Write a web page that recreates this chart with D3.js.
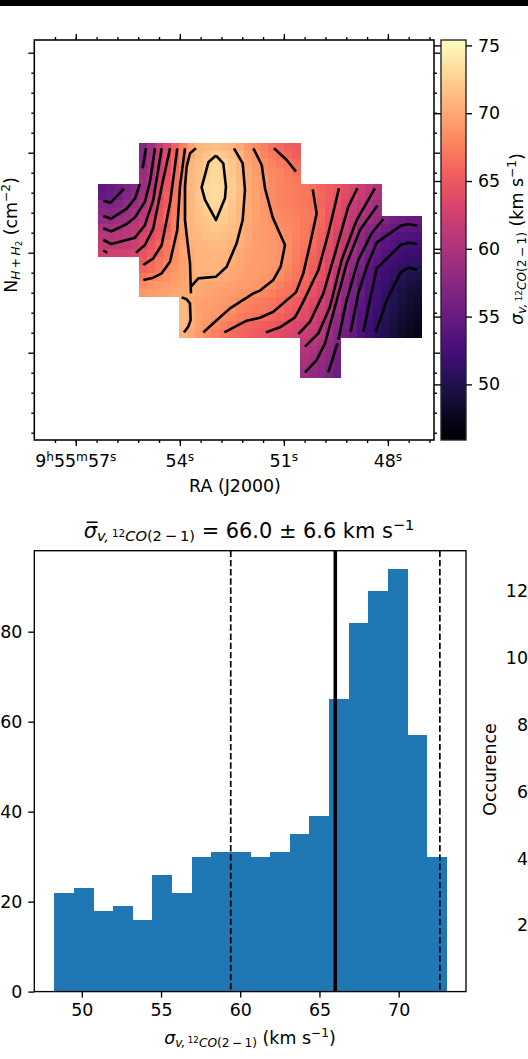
<!DOCTYPE html>
<html>
<head>
<meta charset="utf-8">
<script src="https://cdn.jsdelivr.net/npm/d3@7"></script>
<style>
body { margin: 0; background: #fff; }
svg { display: block; }
text { font-family: "DejaVu Sans"; fill: #000; }
</style>
</head>
<body>
<svg id="fig" width="528" height="1059"></svg>
<script>
// sigma_v map, one row per pixel row of the image; first column of each row is in rowFirstCol
const rowFirstCol = [5,5,5,5,5, 0,0,0,0, 0,0,0,0,0, 5,5,5,5,5, 10,10,10,10,10, 25,25,25,25,25];
const sigmaRows = [
  [57.0,59.0,61.3,63.2,65.4,67.6,69.6,70.8,71.1,71.3,71.2,70.9,70.0,69.0,68.3,67.5,66.7,66.1,65.6,65.2],
  [57.3,59.3,61.4,63.6,65.7,67.8,70.2,71.1,71.6,72.3,72.0,71.4,70.7,69.5,68.9,67.9,67.3,66.7,66.0,65.4],
  [57.6,59.6,61.8,63.9,66.1,68.0,70.9,71.5,72.1,72.9,72.7,71.9,71.0,69.9,69.2,68.4,67.8,67.3,66.8,66.2],
  [58.5,59.8,62.2,64.2,66.4,68.3,71.0,71.6,72.4,73.0,72.7,72.0,71.1,70.1,69.4,68.7,68.1,67.7,67.2,66.6],
  [58.8,60.3,62.5,64.6,66.7,68.5,71.0,71.7,72.7,73.1,72.8,72.1,71.2,70.2,69.5,68.9,68.3,67.9,67.4,67.0],
  [54.5,55.0,55.6,56.5,57.4,58.8,60.6,62.9,64.9,66.9,68.8,71.0,71.8,73.0,73.3,73.0,72.2,71.3,70.3,69.6,68.9,68.3,67.9,67.6,67.3,67.0,66.6,65.9,65.3,64.7,64.1,63.2,62.1,61.2,60.2],
  [54.8,55.2,56.0,57.0,58.0,59.2,61.2,63.2,65.3,67.0,68.9,71.0,71.9,72.9,73.3,72.9,72.1,71.2,70.3,69.7,68.9,68.3,67.9,67.6,67.3,67.0,66.7,66.0,65.4,64.8,63.8,63.1,61.9,60.8,59.8],
  [56.8,56.4,57.0,57.8,58.7,59.9,61.6,64.0,65.2,67.2,69.0,71.0,71.9,72.7,73.2,72.7,72.0,71.2,70.3,69.6,68.9,68.3,67.9,67.6,67.3,67.1,66.8,65.9,65.1,64.3,63.2,62.0,61.0,60.0,59.0],
  [57.6,57.4,57.8,58.6,59.5,60.7,62.1,64.5,65.8,67.3,69.4,71.0,71.7,72.4,72.8,72.5,71.8,71.1,70.2,69.6,69.0,68.5,68.2,67.9,67.5,67.2,66.9,66.2,65.0,64.0,63.0,61.7,60.6,59.5,58.4],
  [58.3,58.3,58.7,59.3,60.4,61.4,63.0,64.8,66.1,67.6,69.7,71.0,71.5,72.0,72.4,72.1,71.6,71.0,70.2,69.6,69.1,68.7,68.3,68.0,67.7,67.3,66.9,66.0,64.9,63.7,62.4,61.1,59.6,58.8,57.9,56.8,55.8,55.3,54.9,54.8],
  [59.8,59.6,59.9,60.6,61.2,62.1,63.1,64.5,65.7,67.4,69.4,70.8,71.3,71.7,72.0,71.8,71.4,70.8,69.9,69.5,69.2,68.9,68.6,68.2,67.8,67.3,66.4,65.9,64.8,63.4,62.1,60.6,58.5,57.4,56.8,55.6,54.9,54.2,54.1,54.0],
  [60.8,60.5,60.6,61.0,61.5,63.0,63.8,65.1,66.4,67.9,69.2,70.8,71.1,71.4,71.6,71.4,71.1,70.6,69.9,69.4,69.1,68.9,68.7,68.2,67.7,67.2,66.4,65.4,64.3,62.9,61.5,59.9,58.1,56.6,55.5,54.5,53.9,53.4,53.2,53.1],
  [61.6,61.4,61.5,61.8,62.2,63.4,64.6,65.7,67.0,68.3,69.7,70.6,70.9,71.1,71.2,71.1,70.8,70.5,69.9,69.5,69.2,69.0,68.8,68.4,67.6,67.0,66.2,65.3,64.0,63.0,61.3,59.6,57.6,56.0,54.8,53.9,53.2,52.7,52.3,52.4],
  [62.4,62.4,62.5,62.7,63.0,64.5,65.1,66.0,67.2,68.6,69.8,70.3,70.7,70.9,70.9,70.8,70.6,70.2,69.7,69.4,69.2,69.0,68.7,68.3,67.5,66.7,65.9,65.0,63.7,62.4,60.5,59.0,57.1,55.6,54.3,53.3,52.7,52.2,51.8,51.7],
  [64.9,66.1,66.9,67.6,68.5,69.5,70.2,70.7,70.8,70.8,70.7,70.5,70.0,69.6,69.3,69.2,69.0,68.8,68.2,67.4,66.6,65.5,64.7,63.4,62.2,59.9,58.0,56.7,54.9,53.7,52.8,52.1,51.7,51.2,51.1],
  [65.9,66.4,67.2,68.2,68.9,69.5,70.3,70.7,70.8,70.8,70.6,70.2,69.9,69.5,69.3,69.1,68.9,68.6,68.0,67.2,66.4,65.2,64.4,63.0,61.4,59.4,57.7,55.9,54.0,52.9,52.1,51.5,50.9,50.4,50.3],
  [66.9,67.7,68.2,68.7,69.2,69.7,70.3,70.6,70.5,70.5,70.2,70.0,69.7,69.4,69.2,69.0,68.7,68.3,67.6,66.9,66.2,65.4,64.2,62.9,60.9,58.9,56.9,55.1,53.6,52.7,51.9,51.1,50.5,49.9,49.7],
  [68.3,68.7,69.0,69.2,69.6,69.9,70.3,70.1,70.0,69.9,69.8,69.6,69.4,69.2,69.0,68.8,68.3,67.6,67.0,66.5,65.8,64.9,63.6,62.4,60.3,57.9,56.2,54.5,53.4,52.1,51.5,50.7,49.9,49.3,49.1],
  [68.9,69.3,69.5,69.6,70.0,70.2,70.5,70.0,69.8,69.6,69.4,69.2,69.0,68.8,68.6,68.0,67.6,67.1,66.7,66.3,65.3,64.3,63.3,61.8,59.9,57.9,56.2,54.9,53.4,52.3,51.3,50.3,49.4,48.8,48.6],
  [71.0,70.0,69.7,69.5,69.3,69.1,68.8,68.3,67.9,67.6,67.3,66.9,66.4,65.9,65.3,64.6,63.6,62.7,61.2,59.5,57.5,55.9,54.3,52.9,52.1,51.0,50.1,49.3,48.6,48.3],
  [71.2,70.4,69.6,69.3,69.1,68.8,68.5,67.9,67.5,67.2,67.0,66.7,66.3,65.6,64.9,64.1,63.1,62.2,60.9,58.9,56.9,55.6,53.8,52.7,51.7,50.7,49.8,49.1,48.4,48.0],
  [71.2,70.6,69.8,69.3,68.9,68.3,67.8,67.4,67.1,66.8,66.4,66.0,65.6,65.0,64.3,63.7,62.8,61.9,60.2,58.1,56.6,55.2,53.6,52.3,51.3,50.2,49.5,48.8,48.2,47.8],
  [71.0,70.4,69.5,68.9,68.2,67.6,67.1,66.4,65.9,65.6,65.3,65.0,64.4,63.9,63.3,62.9,62.2,61.1,59.2,57.8,56.2,54.8,53.5,52.2,51.0,50.0,49.2,48.5,47.9,47.5],
  [70.6,70.0,69.1,68.3,67.6,66.9,66.2,65.8,65.5,65.1,64.8,64.2,63.8,63.4,62.8,62.0,61.4,60.7,59.0,57.2,55.8,54.6,53.2,52.0,50.7,49.9,49.1,48.3,47.6,47.2],
  [61.0,60.7,59.9,58.2,57.0],
  [60.5,59.9,59.0,57.7,56.3],
  [59.9,59.3,58.4,57.4,55.9],
  [59.3,58.6,57.9,57.0,55.6],
  [58.7,58.1,57.4,56.5,55.3]
];

// contour lines, as [column, row] of the map
const contourLines = [
  [[0.62,7.09],[1.53,7.33],[3.18,5.6]],
  [[0.62,8.98],[1.61,9.31],[3.51,8.08],[4.54,6.8],[5.15,5.03]],
  [[5.48,3.09],[5.9,0.62]],
  [[0.62,10.5],[1.61,10.88],[3.51,9.97],[4.54,9.15],[5.77,7.21],[6.39,4.74],[7.01,0.62]],
  [[0.62,11.95],[1.61,12.44],[4.54,11.66],[5.77,10.09],[6.8,7.0],[7.84,0.62]],
  [[0.62,13.27],[1.11,13.51]],
  [[4.66,13.51],[5.77,12.57],[6.8,10.51],[7.84,5.36],[8.87,0.62]],
  [[5.57,15.04],[6.8,14.22],[7.84,12.57],[8.87,7.42],[9.77,0.62]],
  [[5.57,16.89],[6.8,16.6],[7.84,16.07],[8.87,14.63],[9.77,10.71],[10.1,5.36],[10.72,0.62]],
  [[12.08,0.62],[11.34,1.24],[10.93,2.88],[10.72,5.36],[10.72,9.48],[11.34,14.83],[11.46,18.54]],
  [[11.46,17.72],[12.37,16.69],[14.56,16.48],[15.88,15.25],[17.11,12.36],[17.86,9.48],[18.14,5.77],[17.86,2.47],[16.78,0.62]],
  [[10.31,19.04],[10.93,19.28],[11.34,19.78],[11.42,21.84],[11.13,22.66],[10.6,23.36]],
  [[14.56,1.52],[13.61,2.35],[13.2,3.91],[12.78,5.44],[13.2,7.0],[14.56,9.48],[15.67,6.8],[15.79,5.36],[15.46,2.47],[14.56,1.52]],
  [[12.99,23.36],[14.43,22.04],[16.29,20.4],[19.18,18.54],[20,18.2],[21.65,16.89],[22.56,15.25],[23.09,12.57],[21.57,9.15],[20.62,5.56],[20.21,2.68],[19.18,0.62]],
  [[21.73,0.62],[23.3,2.06],[24.45,3.5]],
  [[15.59,23.36],[18.35,21.92],[20,21.55],[21.65,20.81],[24.45,18.42],[25.36,16.07],[26.39,11.54],[27.01,8.65],[26.52,5.69]],
  [[20.74,23.36],[22.47,22.74],[24.33,21.51],[25.36,19.57],[27.22,15.66],[28.45,11.12],[29.77,5.56]],
  [[24.74,23.57],[26.19,22.04],[27.84,18.54],[29.28,13.6],[30.93,7.83],[32.04,5.56]],
  [[25.57,25.13],[27.22,23.49],[28.66,20.19],[30.1,14.42],[31.96,9.48],[34.21,5.56]],
  [[25.57,28.31],[27.01,26.78],[28.04,24.72],[29.28,20.19],[30.72,14.83],[32.37,10.71],[34.52,7.7]],
  [[28.45,28.31],[29.57,24.72]],
  [[29.69,24.23],[30.72,19.37],[32.16,14.42],[33.81,11.12],[35.26,9.35]],
  [[31.22,23.28],[32.16,18.54],[33.2,15.25],[34.43,12.28],[37.4,10.18],[38.35,9.97],[39.46,10.18]],
  [[32.78,23.28],[33.6,19.37],[34.43,15.45],[37.4,12.57],[38.35,12.28],[39.46,12.44]],
  [[34.35,23.28],[35.67,19.37],[37.4,15.95],[38.47,15.37],[39.46,15.66]]
];

const raMajor = [57, 54, 51, 48];
const raMinor = [57.6,57,56.4,55.8,55.2,54.6,54,53.4,52.8,52.2,51.6,51,50.4,49.8,49.2,48.6,48,47.4,46.8];
const decTicks = d3.range(0, 20);
const cbarTicks = [50, 55, 60, 65, 70, 75];

const histEdges = [48.27,49.51,50.75,51.98,53.22,54.46,55.70,56.94,58.17,59.41,60.65,61.89,63.13,64.36,65.60,66.84,68.08,69.32,70.55,71.79,73.03];
const histCounts = [22,23,18,19,16,26,22,30,31,31,30,31,35,39,65,82,89,94,57,30];
const histMean = 66.0;
const histStd = 6.6;
const histXTicks = [50, 55, 60, 65, 70];
const histYTicks = [0, 20, 40, 60, 80];
const thirdPanelTicks = [2, 4, 6, 8, 10, 12];

const FS = 17.4, LW = 1.35;
const svg = d3.select("#fig");

// chart box positions
const map = { left: 34.3, right: 434, top: 40, bottom: 440 };
const cb = { left: 441, right: 466 };
const hist = { left: 34.3, right: 466, top: 550.7, bottom: 991.6 };

svg.append("rect").attr("x", 0).attr("y", 0).attr("width", 528).attr("height", 6).attr("fill", "#000");

var ra = d3.scaleLinear().domain([57, 48]).range([75.8, 387.9]);
var dec = d3.scaleLinear().domain([0, 19]).range([52.7, 432.7]);
var col = d3.scaleLinear().domain([0, 40]).range([98.3, 421.7]);
var row = d3.scaleLinear().domain([0, 29]).range([143.3, 378]);
var vscale = d3.scaleLinear().domain([45.9, 75.4]).range([440, 40]);
var color = d3.scaleSequential(d3.interpolateMagma).domain([45.9, 75.4]);

// map cells
var cells = [];
sigmaRows.forEach(function (r, i) {
    r.forEach(function (v, j) { cells.push({ c: rowFirstCol[i] + j, r: i, v: v }); });
});
svg.append("g").attr("shape-rendering", "crispEdges").selectAll("rect").data(cells).join("rect")
    .attr("x", d => col(d.c)).attr("y", d => row(d.r))
    .attr("width", col(1) - col(0) + 0.4).attr("height", row(1) - row(0) + 0.4)
    .attr("fill", d => color(d.v));

var line = d3.line().x(d => col(d[0])).y(d => row(d[1]));
svg.append("g").selectAll("path").data(contourLines).join("path")
    .attr("d", line).attr("fill", "none").attr("stroke", "#000")
    .attr("stroke-width", 2.6).attr("stroke-linejoin", "round").attr("stroke-linecap", "butt");

function styleAxis(g) {
    g.selectAll("path").attr("stroke", "#000").attr("stroke-width", LW);
    g.selectAll("line").attr("stroke", "#000").attr("stroke-width", LW);
    g.selectAll("text").attr("font-size", FS).attr("font-family", "DejaVu Sans").attr("fill", "#000");
}
function tickAxis(axis, x, y, size, vals) {
    var g = svg.append("g").attr("transform", "translate(" + x + "," + y + ")")
        .call(axis.tickValues(vals).tickSize(size).tickSizeOuter(0).tickFormat(""));
    g.select("path").remove();
    styleAxis(g);
    return g;
}

// map ticks on all sides, no labels on the y side
var decMajor = decTicks.filter(d => d % 5 == 0), decMinor = decTicks.filter(d => d % 5 != 0);
tickAxis(d3.axisTop(ra), 0, map.top, 6, raMajor);
tickAxis(d3.axisTop(ra), 0, map.top, 3, raMinor);
tickAxis(d3.axisBottom(ra), 0, map.bottom, 6, raMajor);
tickAxis(d3.axisBottom(ra), 0, map.bottom, 3, raMinor);
tickAxis(d3.axisLeft(dec), map.left, 0, 6, decMajor);
tickAxis(d3.axisLeft(dec), map.left, 0, 3, decMinor);
tickAxis(d3.axisRight(dec), map.right, 0, 6, decMajor);
tickAxis(d3.axisRight(dec), map.right, 0, 3, decMinor);
svg.append("rect").attr("x", map.left).attr("y", map.top).attr("width", map.right - map.left)
    .attr("height", map.bottom - map.top).attr("fill", "none").attr("stroke", "#000").attr("stroke-width", LW + 0.2);

// sub and superscripts as tspans; dy is undone on the following part
function mathText(t, parts) {
    var shift = 0;
    parts.forEach(function (p) {
        var rise = p.rise || 0;
        t.append("tspan").attr("dy", shift - rise)
            .attr("font-size", p.size || FS)
            .attr("font-style", p.it ? "italic" : "normal")
            .text(p.t);
        shift = rise;
    });
    return t;
}
var sigmaParts = [
    { t: "v,\u2009", it: 1, size: FS * 0.7, rise: -3 },
    { t: "12", size: FS * 0.5, rise: 1 },
    { t: "CO", it: 1, size: FS * 0.7, rise: -3 },
    { t: "(2\u2009\u2212\u20091)", it: 0, size: FS * 0.7, rise: -3 }
];

// RA labels
raMajor.forEach(function (s, i) {
    var t = svg.append("text").attr("x", ra(s)).attr("y", 467).attr("text-anchor", "middle");
    var parts = i == 0 ? [{ t: "9" }, { t: "h", size: FS * 0.7, rise: 6 }, { t: "55" }, { t: "m", size: FS * 0.7, rise: 6 }, { t: "57" }, { t: "s", size: FS * 0.7, rise: 6 }]
        : [{ t: String(s) }, { t: "s", size: FS * 0.7, rise: 6 }];
    mathText(t, parts);
});
svg.append("text").attr("x", 235).attr("y", 492).attr("text-anchor", "middle").attr("font-size", FS).text("RA (J2000)");

var nLabel = svg.append("text").attr("text-anchor", "middle").attr("transform", "translate(17,235) rotate(-90)");
mathText(nLabel, [{ t: "N" }, { t: "H\u2009+\u2009H", it: 1, size: FS * 0.7, rise: -3 }, { t: "2", size: FS * 0.5, rise: -5 }, { t: " (cm" }, { t: "\u22122", size: FS * 0.7, rise: 7 }, { t: ")" }]);

// colorbar
svg.append("g").attr("shape-rendering", "crispEdges").selectAll("rect").data(d3.range(40, 440)).join("rect")
    .attr("x", cb.left).attr("y", d => d).attr("width", cb.right - cb.left).attr("height", 1.2)
    .attr("fill", d => color(vscale.invert(d + 0.5)));
svg.append("rect").attr("x", cb.left).attr("y", map.top).attr("width", cb.right - cb.left)
    .attr("height", map.bottom - map.top).attr("fill", "none").attr("stroke", "#222").attr("stroke-width", LW);
var cbAxis = svg.append("g").attr("transform", "translate(" + cb.right + ",0)")
    .call(d3.axisRight(vscale).tickValues(cbarTicks).tickSize(6).tickPadding(6).tickSizeOuter(0));
cbAxis.select("path").remove();
styleAxis(cbAxis);
tickAxis(d3.axisLeft(vscale), cb.left, 0, 7, cbarTicks);

var cbLabel = svg.append("text").attr("text-anchor", "middle").attr("transform", "translate(523,239) rotate(-90)");
mathText(cbLabel, [{ t: "\u03c3", it: 1 }].concat(sigmaParts).concat([{ t: " (km s" }, { t: "\u22121", size: FS * 0.7, rise: 7 }, { t: ")" }]));

// histogram
var hx = d3.scaleLinear().domain([47.0, 74.25]).range([hist.left, hist.right]);
var hy = d3.scaleLinear().domain([0, 98.0]).range([hist.bottom, hist.top]);

svg.append("g").attr("shape-rendering", "crispEdges").selectAll("rect").data(histCounts).join("rect")
    .attr("x", (d, i) => hx(histEdges[i])).attr("y", d => hy(d))
    .attr("width", (d, i) => hx(histEdges[i + 1]) - hx(histEdges[i]) + 0.3)
    .attr("height", d => hy(0) - hy(d)).attr("fill", "#1f77b4");

[histMean - histStd, histMean + histStd].forEach(function (v) {
    svg.append("line").attr("x1", hx(v)).attr("x2", hx(v)).attr("y1", hist.top).attr("y2", hist.bottom)
        .attr("stroke", "#000").attr("stroke-width", 1.7).attr("stroke-dasharray", "6.4,2.8");
});
svg.append("line").attr("x1", hx(histMean)).attr("x2", hx(histMean)).attr("y1", hist.top).attr("y2", hist.bottom)
    .attr("stroke", "#000").attr("stroke-width", 3.5);

var hxAxis = svg.append("g").attr("transform", "translate(0," + hist.bottom + ")")
    .call(d3.axisBottom(hx).tickValues(histXTicks).tickSize(6).tickPadding(6).tickSizeOuter(0));
hxAxis.select("path").remove();
styleAxis(hxAxis);
var hyAxis = svg.append("g").attr("transform", "translate(" + hist.left + ",0)")
    .call(d3.axisLeft(hy).tickValues(histYTicks).tickSize(6).tickPadding(6).tickSizeOuter(0));
hyAxis.select("path").remove();
styleAxis(hyAxis);
svg.append("rect").attr("x", hist.left).attr("y", hist.top).attr("width", hist.right - hist.left)
    .attr("height", hist.bottom - hist.top).attr("fill", "none").attr("stroke", "#000").attr("stroke-width", LW);

var title = svg.append("text").attr("x", 249).attr("y", 538).attr("text-anchor", "middle");
mathText(title, [{ t: "\u03c3\u0305", it: 1, size: FS * 1.2 }].concat(sigmaParts.map(p => Object.assign({}, p, { size: p.size * 1.2 })))
    .concat([{ t: " = 66.0 \u00b1 6.6 km s", size: FS * 1.2 }, { t: "\u22121", size: FS * 0.84, rise: 8 }]));

var hxLabel = svg.append("text").attr("x", 250).attr("y", 1044).attr("text-anchor", "middle");
mathText(hxLabel, [{ t: "\u03c3", it: 1 }].concat(sigmaParts).concat([{ t: " (km s" }, { t: "\u22121", size: FS * 0.7, rise: 7 }, { t: ")" }]));

// clipped third panel: only its y tick labels and y title reach into the picture
var py = d3.scaleLinear().domain([2, 12]).range([925, 591]);
svg.append("g").selectAll("text").data(thirdPanelTicks).join("text")
    .attr("x", 528).attr("y", d => py(d) + 6.3).attr("text-anchor", "end").attr("font-size", FS).text(d => d);
svg.append("text").attr("text-anchor", "middle").attr("transform", "translate(496,769.5) rotate(-90)")
    .attr("font-size", FS).text("Occurence");
</script>
</body>
</html>
